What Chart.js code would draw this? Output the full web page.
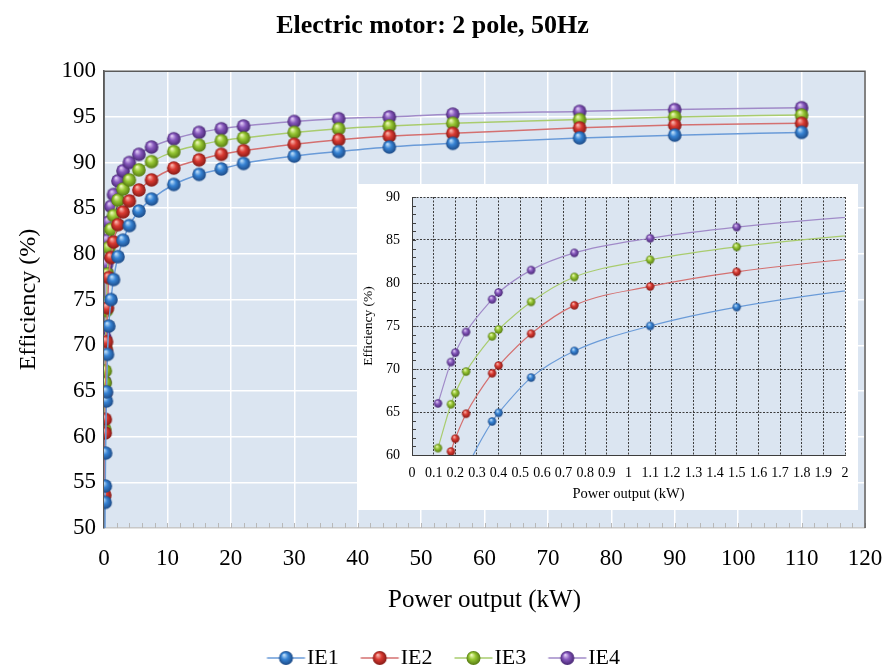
<!DOCTYPE html>
<html>
<head>
<meta charset="utf-8">
<script src="https://cdn.jsdelivr.net/npm/chart.js@4.4.1/dist/chart.umd.min.js"></script>
<style>
  html, body { margin: 0; padding: 0; background: #ffffff; }
  #wrap { position: relative; width: 883px; height: 669px; }
  #inset-box { position: absolute; left: 358px; top: 184px; width: 500px; height: 326px; background: #ffffff; }
</style>
</head>
<body>
<div id="wrap">
  <canvas id="main-chart" width="883" height="669"></canvas>
  <div id="inset-box"><canvas id="inset-chart" width="500" height="326"></canvas></div>
</div>
<script>
// rated power (kW) and efficiency classes, 2 pole 50Hz
const powerKW = [0.12, 0.18, 0.2, 0.25, 0.37, 0.4, 0.55, 0.75, 1.1, 1.5, 2.2, 3, 4, 5.5, 7.5, 11, 15, 18.5, 22, 30, 37, 45, 55, 75, 90, 110];
const ie1 = [45.0, 52.8, 54.6, 58.2, 63.9, 64.9, 69.0, 72.1, 75.0, 77.2, 79.7, 81.5, 83.1, 84.7, 86.0, 87.6, 88.7, 89.3, 89.9, 90.7, 91.2, 91.7, 92.1, 92.7, 93.0, 93.3];
const ie2 = [53.6, 60.4, 61.9, 64.8, 69.5, 70.4, 74.1, 77.4, 79.6, 81.3, 83.2, 84.6, 85.8, 87.0, 88.1, 89.4, 90.3, 90.9, 91.3, 92.0, 92.5, 92.9, 93.2, 93.8, 94.1, 94.3];
const ie3 = [60.8, 65.9, 67.2, 69.7, 73.8, 74.6, 77.8, 80.7, 82.7, 84.2, 85.9, 87.1, 88.1, 89.2, 90.1, 91.2, 91.9, 92.4, 92.7, 93.3, 93.7, 94.0, 94.3, 94.7, 95.0, 95.2];
const ie4 = [66.0, 70.8, 71.9, 74.3, 78.1, 78.9, 81.5, 83.5, 85.2, 86.5, 88.0, 89.1, 90.0, 90.9, 91.7, 92.6, 93.3, 93.7, 94.0, 94.5, 94.8, 95.0, 95.3, 95.6, 95.8, 96.0];
const seriesNames = ['IE1', 'IE2', 'IE3', 'IE4'];

const FONT = '"Liberation Serif", "Times New Roman", serif';

const palette = [
  { line: '#6a9bd8', light: '#c4e2fb', mid: '#3683d4', dark: '#1d4a86' },
  { line: '#d47070', light: '#fbbab2', mid: '#d93a32', dark: '#861a16' },
  { line: '#a9cc6e', light: '#f0fbbe', mid: '#97c734', dark: '#557a12' },
  { line: '#a08ac8', light: '#e4cff8', mid: '#8759bd', dark: '#472673' }
];

// shiny ball marker (optionally with a bit of line for the legend)
function makeSphere(p, r, lineFrom, lineTo, width) {
  const c = document.createElement('canvas');
  const h = Math.ceil(r * 2 + 2);
  const w = width || h;
  c.width = w;
  c.height = h;
  const g = c.getContext('2d');
  let cx = w / 2;
  const cy = h / 2;
  if (width) {
    g.strokeStyle = p.line;
    g.lineWidth = 1.5;
    g.beginPath();
    g.moveTo(lineFrom, cy);
    g.lineTo(lineTo, cy);
    g.stroke();
    cx = (lineFrom + lineTo) / 2;
  }
  const grad = g.createRadialGradient(cx - r * 0.3, cy - r * 0.45, r * 0.05, cx, cy, r);
  grad.addColorStop(0, p.light);
  grad.addColorStop(0.45, p.mid);
  grad.addColorStop(1, p.dark);
  g.fillStyle = grad;
  g.beginPath();
  g.arc(cx, cy, r, 0, Math.PI * 2);
  g.fill();
  return c;
}

const plotBg = {
  id: 'plotBg',
  beforeDraw(chart, args, opts) {
    const { ctx, chartArea: a } = chart;
    ctx.save();
    ctx.fillStyle = opts.color;
    ctx.fillRect(a.left, a.top, a.width, a.height);
    ctx.restore();
  }
};

// frame and small tick marks
const plotFrame = {
  id: 'plotFrame',
  beforeDatasetsDraw(chart, args, opts) {
    const { ctx, chartArea: a, scales } = chart;
    ctx.save();
    if (opts.minorX) {
      ctx.strokeStyle = opts.minorColor;
      ctx.lineWidth = 1;
      const xs = scales.x;
      for (let v = xs.min; v <= xs.max; v += opts.minorX) {
        const px = Math.round(xs.getPixelForValue(v)) + 0.5;
        ctx.beginPath();
        ctx.moveTo(px, a.bottom);
        ctx.lineTo(px, a.bottom - 5);
        ctx.stroke();
      }
    }
    if (opts.minorY) {
      ctx.strokeStyle = opts.minorColor;
      ctx.lineWidth = 1;
      const ys = scales.y;
      for (let v = ys.min; v <= ys.max; v += opts.minorY) {
        const py = Math.round(ys.getPixelForValue(v)) + 0.5;
        ctx.beginPath();
        ctx.moveTo(a.left, py);
        ctx.lineTo(a.left + 4, py);
        ctx.stroke();
      }
    }
    if (opts.frame) {
      ctx.strokeStyle = opts.frame;
      ctx.lineWidth = 1.5;
      ctx.beginPath();
      ctx.moveTo(a.left, a.bottom);
      ctx.lineTo(a.left, a.top);
      ctx.lineTo(a.right, a.top);
      ctx.lineTo(a.right, a.bottom);
      ctx.stroke();
    }
    ctx.restore();
  }
};

const allSeries = [ie1, ie2, ie3, ie4];

function buildDatasets(r, bw) {
  return allSeries.map((vals, i) => ({
    label: seriesNames[i],
    data: powerKW.map((x, j) => ({ x: x, y: vals[j] })),
    borderColor: palette[i].line,
    backgroundColor: palette[i].mid,
    borderWidth: bw,
    pointStyle: makeSphere(palette[i], r),
    pointRadius: r,
    cubicInterpolationMode: 'monotone'
  }));
}

const legendIcons = palette.map(p => makeSphere(p, 7, 33.5, 71.5, 74));

// main chart
const mainCtx = document.getElementById('main-chart').getContext('2d');
new Chart(mainCtx, {
  type: 'line',
  data: { datasets: buildDatasets(6.8, 1.5) },
  plugins: [plotBg, plotFrame],
  options: {
    responsive: false,
    devicePixelRatio: 1,
    animation: false,
    layout: { padding: { left: 0, right: 18, top: 0, bottom: -10 } },
    plugins: {
      plotBg: { color: '#dbe5f1' },
      plotFrame: { frame: '#5a5a5a', minorX: 2, minorColor: '#b8b8b8' },
      tooltip: { enabled: false },
      title: {
        display: true,
        text: 'Electric motor: 2 pole, 50Hz',
        color: '#000000',
        font: { family: FONT, size: 26, weight: 'bold' },
        padding: { top: 11, bottom: 29 }
      },
      legend: {
        position: 'bottom',
        labels: {
          usePointStyle: true,
          pointStyleWidth: 51,
          padding: 0,
          color: '#000000',
          font: { family: FONT, size: 22 },
          generateLabels: chart => chart.data.datasets.map((ds, i) => ({
            text: ds.label,
            pointStyle: legendIcons[i],
            fillStyle: palette[i].mid,
            strokeStyle: palette[i].line,
            lineWidth: 0,
            hidden: false,
            datasetIndex: i
          }))
        }
      }
    },
    scales: {
      x: {
        type: 'linear',
        min: 0,
        max: 120,
        ticks: { stepSize: 10, color: '#000000', padding: 17, font: { family: FONT, size: 23 }, maxRotation: 0 },
        grid: { color: '#ffffff', lineWidth: 1.5, drawTicks: false },
        border: { color: '#c8c8c8', width: 1.5 },
        title: {
          display: true,
          text: 'Power output (kW)',
          color: '#000000',
          font: { family: FONT, size: 25 },
          padding: { top: 0, bottom: 32 }
        },
        afterFit: scale => {
          scale.height = 119;
          scale.paddingLeft = 0;
          scale.paddingRight = 0;
        }
      },
      y: {
        min: 50,
        max: 100,
        ticks: { stepSize: 5, color: '#000000', padding: 8, font: { family: FONT, size: 23 } },
        grid: { color: '#ffffff', lineWidth: 1.5, drawTicks: false },
        border: { color: '#5a5a5a', width: 1.5 },
        title: {
          display: true,
          text: 'Efficiency (%)',
          color: '#000000',
          font: { family: FONT, size: 24 },
          padding: { top: 14, bottom: 0 }
        },
        afterFit: scale => { scale.width = 104; }
      }
    }
  }
});

// inset, zoom on 0 - 2 kW
const insetCtx = document.getElementById('inset-chart').getContext('2d');
new Chart(insetCtx, {
  type: 'line',
  data: { datasets: buildDatasets(4.2, 1.2) },
  plugins: [plotBg, plotFrame],
  options: {
    responsive: false,
    devicePixelRatio: 1,
    animation: false,
    layout: { padding: { left: 0, right: 13, top: 13, bottom: 0 } },
    plugins: {
      plotBg: { color: '#dbe5f1' },
      plotFrame: { minorY: 1, minorColor: '#404040' },
      tooltip: { enabled: false },
      legend: { display: false },
      title: { display: false }
    },
    scales: {
      x: {
        type: 'linear',
        min: 0,
        max: 2,
        ticks: {
          stepSize: 0.1,
          autoSkip: false,
          maxRotation: 0,
          color: '#000000',
          padding: 10,
          font: { family: FONT, size: 14 },
          callback: v => String(+v.toFixed(1))
        },
        grid: { color: '#3c3c3c', lineWidth: 1, drawTicks: false },
        border: { color: '#3c3c3c', dash: [2, 1.5] },
        title: {
          display: true,
          text: 'Power output (kW)',
          color: '#000000',
          font: { family: FONT, size: 14.5 },
          padding: { top: 0, bottom: 7 }
        },
        afterFit: scale => {
          scale.height = 55;
          scale.paddingLeft = 0;
          scale.paddingRight = 0;
        }
      },
      y: {
        min: 60,
        max: 90,
        ticks: { stepSize: 5, color: '#000000', padding: 12, font: { family: FONT, size: 14 } },
        grid: { color: '#3c3c3c', lineWidth: 1, drawTicks: false },
        border: { color: '#3c3c3c', dash: [2, 1.5] },
        title: {
          display: true,
          text: 'Efficiency (%)',
          color: '#000000',
          font: { family: FONT, size: 13.5 },
          padding: { top: 2, bottom: 0 }
        },
        afterFit: scale => {
          scale.width = 54;
          scale.paddingTop = 0;
          scale.paddingBottom = 0;
        }
      }
    }
  }
});
</script>
</body>
</html>
